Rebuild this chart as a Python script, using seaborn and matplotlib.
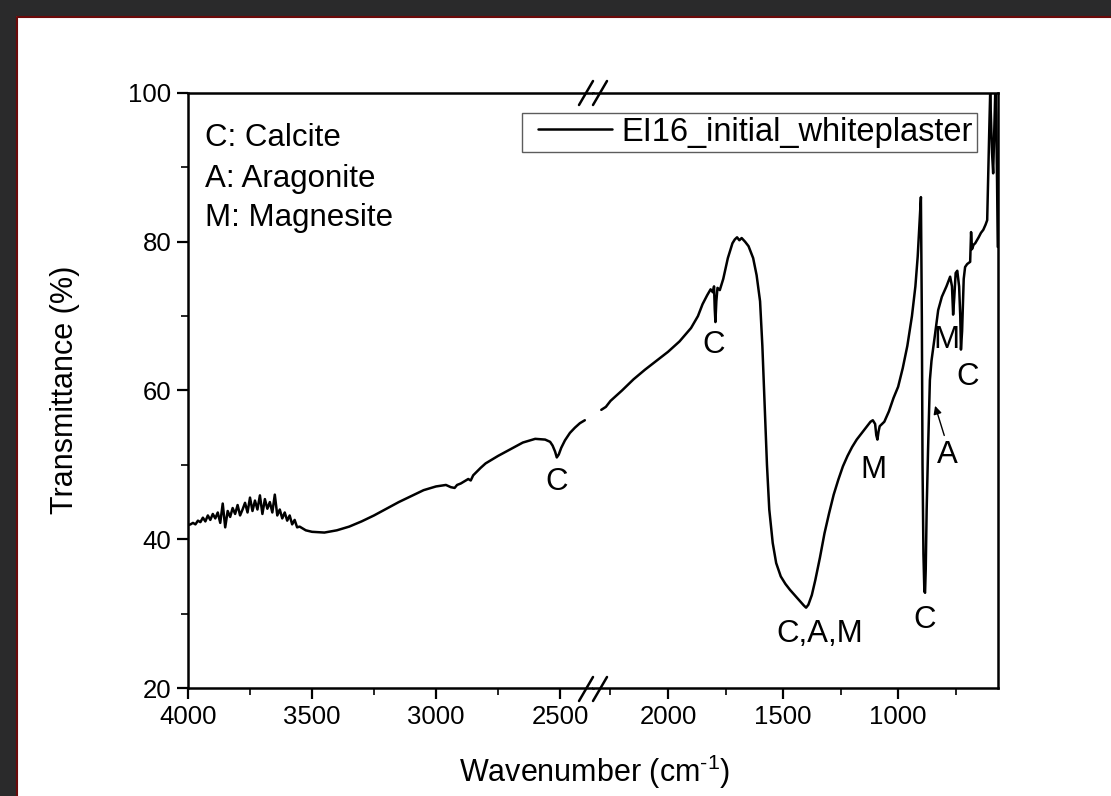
import matplotlib
matplotlib.use("Agg")
import matplotlib.pyplot as plt
import seaborn as sns
import pandas as pd
from matplotlib.lines import Line2D
from matplotlib.patches import Rectangle
from matplotlib.ticker import MultipleLocator
from matplotlib.legend_handler import HandlerLine2D

# spectrum, high wavenumber side of the axis break
wn_high = [4000, 3990, 3980, 3970, 3960, 3950, 3940, 3930, 3920, 3910,
           3900, 3890, 3880, 3870, 3860, 3850, 3840, 3830, 3820, 3810,
           3800, 3790, 3780, 3770, 3760, 3750, 3740, 3730, 3720, 3710,
           3700, 3690, 3680, 3670, 3660, 3650, 3640, 3630, 3620, 3610,
           3600, 3590, 3580, 3570, 3560, 3550, 3525, 3500, 3450, 3400,
           3350, 3300, 3250, 3200, 3150, 3100, 3050, 3000, 2960, 2940,
           2925, 2915, 2900, 2880, 2870, 2860, 2850, 2820, 2800, 2750,
           2700, 2650, 2600, 2560, 2540, 2530, 2520, 2513, 2505, 2495,
           2480, 2460, 2440, 2420, 2400]
tr_high = [41.9, 42.0, 42.2, 42.0, 42.5, 42.3, 42.9, 42.4, 43.2, 42.6,
           43.4, 42.8, 43.6, 42.2, 44.8, 41.6, 43.8, 43.0, 44.2, 43.4,
           44.6, 43.2, 44.0, 44.9, 43.6, 45.6, 43.8, 45.2, 44.0, 45.9,
           43.4, 45.4, 44.1, 45.0, 43.6, 46.0, 43.2, 44.0, 42.8, 43.6,
           42.5, 43.2, 42.0, 42.6, 41.6, 41.7, 41.2, 41.0, 40.9, 41.2,
           41.7, 42.4, 43.2, 44.1, 45.0, 45.8, 46.6, 47.1, 47.3, 47.0,
           46.9, 47.3, 47.5, 47.9, 48.1, 47.9, 48.6, 49.6, 50.2, 51.2,
           52.1, 53.0, 53.5, 53.4, 53.1, 52.6, 51.8, 51.0, 51.4, 52.3,
           53.3, 54.3, 55.0, 55.6, 56.0]

# spectrum, low wavenumber side of the axis break
wn_low = [2290, 2270, 2250, 2200, 2150, 2100, 2050, 2000, 1950, 1900,
          1870, 1850, 1830, 1815, 1805, 1800, 1797, 1794, 1790, 1785,
          1775, 1760, 1740, 1720, 1710, 1700, 1690, 1680, 1665, 1650,
          1630, 1615, 1600, 1590, 1580, 1570, 1560, 1545, 1530, 1510,
          1490, 1470, 1450, 1430, 1410, 1400, 1390, 1375, 1360, 1340,
          1320, 1300, 1280, 1260, 1240, 1220, 1200, 1180, 1160, 1140,
          1120, 1110, 1100, 1095, 1090, 1085, 1080, 1060, 1040, 1020,
          1000, 980, 960, 940, 925, 915, 908, 901, 897, 894,
          890, 886, 883, 880, 876, 870, 862, 855, 839, 826,
          810, 790, 774, 766, 761, 756, 750, 743, 735, 730,
          727, 722, 715, 709, 700, 687, 683, 679, 672, 665,
          650, 640, 630, 620, 613, 609, 604, 600, 596, 592,
          587, 583, 578, 574, 570, 567]
tr_low = [57.4, 57.8, 58.6, 60.0, 61.5, 62.8, 64.0, 65.2, 66.6, 68.4,
          70.0, 71.6, 72.8, 73.6, 73.2, 74.0, 71.0, 69.2, 72.0, 73.8,
          73.5, 75.0, 77.8, 79.8, 80.3, 80.6, 80.2, 80.5, 80.0, 79.4,
          77.8, 75.5, 72.0, 66.0, 58.0, 50.0, 44.0, 39.5, 36.8, 35.0,
          34.0, 33.2, 32.5, 31.8, 31.1, 30.8, 31.2, 32.5, 34.5, 37.5,
          40.8, 43.5, 46.0, 48.0, 49.8, 51.2, 52.4, 53.4, 54.2, 55.0,
          55.8, 56.0, 55.5, 54.0, 53.4, 54.5, 55.2, 55.8, 57.2, 59.0,
          60.5, 63.0, 66.0, 70.0, 74.0, 78.0, 82.0, 86.0, 70.0, 50.0,
          38.0, 33.0, 32.8, 36.0, 44.0, 52.0, 61.4, 64.0, 67.7, 70.8,
          72.6, 74.0, 75.3, 74.0, 70.2, 72.5, 75.8, 76.1, 74.0, 70.0,
          65.5, 68.0, 75.0, 76.6, 77.0, 77.3, 81.3, 79.0, 79.6, 79.8,
          80.6, 81.2, 81.6, 82.3, 82.9, 88.3, 95.0, 100.0, 96.0, 92.0,
          89.2, 94.0, 100.0, 97.0, 88.0, 79.3]

series_name = "EI16_initial_whiteplaster"
legend_lines = ["C: Calcite", "A: Aragonite", "M: Magnesite"]
peak_labels = [("C", 2512, 47.7, "high"), ("C", 1800, 66.1, "low"),
               ("C,A,M", 1339, 27.2, "low"), ("M", 1109, 49.3, "low"),
               ("C", 883, 29.2, "low"), ("A", 787, 51.3, "low"),
               ("M", 791, 66.8, "low"), ("C", 700, 61.8, "low")]

df_high = pd.DataFrame({"wn": wn_high, "T": tr_high})
df_low = pd.DataFrame({"wn": wn_low, "T": tr_low})

sns.set_style("ticks")
plt.rcParams["font.family"] = ["Liberation Sans", "DejaVu Sans"]
plt.rcParams["mathtext.fontset"] = "custom"
plt.rcParams["mathtext.rm"] = "Liberation Sans"
plt.rcParams["axes.unicode_minus"] = False
plt.rcParams["text.color"] = "black"

W, H = 1111, 796
fig = plt.figure(figsize=(W / 100, H / 100), dpi=100, facecolor="white")

x0, xb, x1 = 188, 593, 998
ytop, ybot = 93, 688
axL = fig.add_axes([x0 / W, 1 - ybot / H, (xb - x0) / W, (ybot - ytop) / H])
axR = fig.add_axes([xb / W, 1 - ybot / H, (x1 - xb) / W, (ybot - ytop) / H], sharey=axL)

sns.lineplot(data=df_high, x="wn", y="T", ax=axL, color="black", lw=1.8, legend=False)
sns.lineplot(data=df_low, x="wn", y="T", ax=axR, color="black", lw=1.8, legend=False)

axL.set_xlim(4000, 2367)
axR.set_xlim(2326, 566)
axL.set_ylim(20, 100)

for ax in (axL, axR):
    ax.set_xlabel("")
    ax.set_ylabel("")
    for s in ax.spines.values():
        s.set_linewidth(1.8)
        s.set_color("black")
    ax.tick_params(which="major", direction="out", length=8, width=1.6,
                   labelsize=18.5, colors="black", pad=4)
    ax.tick_params(which="minor", direction="out", length=5, width=1.4)
    ax.set_facecolor("white")

axL.spines["right"].set_visible(False)
axR.spines["left"].set_visible(False)
axR.tick_params(axis="y", which="both", left=False, labelleft=False)

axL.xaxis.set_major_locator(MultipleLocator(500))
axL.xaxis.set_minor_locator(MultipleLocator(250))
axR.xaxis.set_major_locator(MultipleLocator(500))
axR.xaxis.set_minor_locator(MultipleLocator(250))
axL.yaxis.set_major_locator(MultipleLocator(20))
axL.yaxis.set_minor_locator(MultipleLocator(10))

for text, x, y, side in peak_labels:
    ax = axL if side == "high" else axR
    ax.text(x, y, text, ha="center", va="center", fontsize=22.5, color="black")

axR.annotate("", xy=(843, 58.3), xytext=(796, 53.6),
             arrowprops=dict(arrowstyle="-|>", color="black", lw=1.0,
                             mutation_scale=12))

for i, t in enumerate(legend_lines):
    axL.text(0.042, [0.924, 0.855, 0.79][i], t, transform=axL.transAxes,
             ha="left", va="center", fontsize=22.5, color="black")

handle = Line2D([], [], color="black", lw=1.8)
leg = fig.legend([handle], [series_name], loc="upper right",
                 bbox_to_anchor=(977 / W, 1 - 113 / H), fontsize=23.5,
                 frameon=True, fancybox=False, borderpad=0.12,
                 handlelength=2.65, handletextpad=0.3, borderaxespad=0,
                 handler_map={handle: HandlerLine2D(xpad=0.4)})
leg.get_frame().set_edgecolor("#333333")
leg.get_frame().set_linewidth(1.0)
for t in leg.get_texts():
    t.set_color("black")

fig.text(65 / W, 1 - 390 / H, "Transmittance (%)", rotation=90,
         ha="center", va="center", fontsize=22)
fig.text(595 / W, 1 - 772 / H, r"Wavenumber (cm$^{\text{-1}}$)",
         ha="center", va="center", fontsize=22)

# axis break marks
for yc in (93, 689):
    for xc in (586, 600):
        fig.add_artist(Line2D([(xc - 7) / W, (xc + 7) / W],
                              [1 - (yc + 12) / H, 1 - (yc - 12) / H],
                              color="black", lw=1.8))

# dark screenshot frame
fig.patches.append(Rectangle((0, 1 - 16 / H), 1, 16 / H, transform=fig.transFigure,
                             facecolor="#2a2a2b", edgecolor="none", zorder=-1))
fig.patches.append(Rectangle((0, 0), 16 / W, 1, transform=fig.transFigure,
                             facecolor="#2a2a2b", edgecolor="none", zorder=-1))
fig.add_artist(Line2D([16.5 / W, 1], [1 - 16.5 / H, 1 - 16.5 / H], color="#6b0a0a", lw=1.5))
fig.add_artist(Line2D([16.5 / W, 16.5 / W], [0, 1 - 16.5 / H], color="#6b0a0a", lw=1.5))

fig.savefig("out.png", dpi=100, facecolor="white")
